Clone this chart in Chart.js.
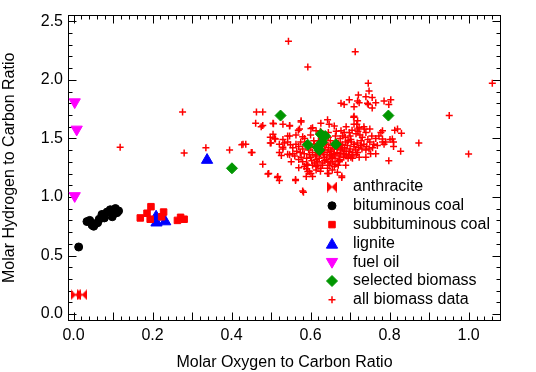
<!DOCTYPE html>
<html><head><meta charset="utf-8">
<style>html,body{margin:0;padding:0;background:#fff;}#wrap{width:536px;height:372px;}</style>
<script src="https://cdn.jsdelivr.net/npm/chart.js@4.4.1/dist/chart.umd.min.js"></script>
</head><body><div id="wrap"><canvas id="c" width="536" height="372"></canvas></div>
<script>
// ---------- data ----------
const seriesNames = ['anthracite','bituminous coal','subbituminous coal','lignite','fuel oil','selected biomass','all biomass data'];
const anthracite = [[0.005,0.165],[0.022,0.165]];
const bituminousCoal = [[0.013,0.573],[0.034,0.79],[0.041,0.80],[0.047,0.76],[0.051,0.75],[0.055,0.77],[0.061,0.78],[0.065,0.81],[0.072,0.851],[0.078,0.821],[0.085,0.871],[0.093,0.891],[0.098,0.831],[0.10,0.851],[0.106,0.901],[0.11,0.866],[0.114,0.881]];
const subbituminousCoal = [[0.169,0.821],[0.186,0.861],[0.196,0.917],[0.194,0.81],[0.223,0.831],[0.228,0.871],[0.263,0.80],[0.271,0.826],[0.28,0.81]];
const lignite = [[0.209,0.831],[0.21,0.78],[0.232,0.79],[0.338,1.315]];
const fuelOil = [[0.003,1.81],[0.008,1.577],[0.003,1.009]];
const selectedBiomass = [[0.401,1.245],[0.524,1.695],[0.797,1.695],[0.626,1.536],[0.593,1.445],[0.618,1.425],[0.629,1.467],[0.637,1.52],[0.664,1.45],[0.622,1.40]];
const allBiomass = [
[0.118,1.425],[0.276,1.725],[0.28,1.375],[0.335,1.42],[0.395,1.40],[0.426,1.445],[0.436,1.45],[0.452,1.38],[0.463,1.725],[0.479,1.725],[0.461,1.63],[0.475,1.60],[0.479,1.61],[0.479,1.28],[0.492,1.195],
[0.544,2.33],[0.713,2.24],[0.593,2.11],[0.746,1.97],[0.748,1.905],[0.721,1.87],[0.74,1.855],[0.756,1.85],[0.698,1.83],[0.677,1.80],[0.723,1.805],[0.744,1.80],[0.765,1.805],[0.786,1.82],[0.803,1.83],[0.798,1.79],[0.71,1.77],[0.756,1.76],[0.951,1.695],[1.0,1.367],[1.06,1.97],[0.874,1.46],[0.828,1.39],[0.798,1.31],[0.83,1.545],[0.82,1.58],[0.807,1.495],[0.782,1.565],[0.773,1.52],[0.782,1.47],[0.765,1.37],[0.748,1.41],[0.74,1.34],[0.723,1.34],[0.706,1.33],[0.71,1.69],[0.719,1.65],[0.736,1.58],[0.719,1.58],[0.71,1.62],[0.643,1.66],[0.605,1.59],[0.576,1.65],[0.572,1.58],[0.547,1.61],[0.53,1.62],[0.505,1.63],[0.542,1.52],[0.509,1.50],[0.53,1.425],[0.547,1.36],[0.521,1.38],[0.551,1.30],[0.517,1.175],[0.521,1.14],[0.562,1.14],[0.58,1.30],[0.593,1.217],[0.601,1.20],[0.614,1.26],[0.643,1.245],[0.668,1.21],[0.679,1.18],[0.689,1.27],[0.584,1.37],[0.685,1.37],[0.673,1.30],[0.652,1.33],[0.63,1.29],[0.605,1.27],
[0.506,1.625],[0.547,1.605],[0.576,1.64],[0.569,1.57],[0.601,1.585],[0.614,1.565],[0.498,1.51],[0.511,1.495],[0.498,1.46],[0.563,1.53],[0.58,1.515],[0.534,1.46],[0.549,1.445],[0.563,1.45],[0.53,1.41],[0.542,1.364],[0.574,1.38],[0.576,1.34],[0.593,1.27],[0.584,1.26],[0.597,1.217],[0.516,1.167],[0.589,1.175],[0.605,1.175],[0.582,1.04],[0.646,1.20],[0.679,1.167],
[0.813,1.57],[0.801,1.49],[0.81,1.47],[0.79,1.47],[0.81,1.43],[0.719,1.82],[0.685,1.79],[0.746,1.79],
[0.626,1.63],[0.647,1.62],[0.66,1.605],[0.709,1.68],[0.717,1.62],[0.723,1.59],[0.677,1.565],[0.698,1.55],[0.715,1.54],[0.731,1.51],[0.702,1.49],[0.681,1.52],[0.689,1.47],[0.71,1.45],[0.727,1.44],[0.74,1.40],[0.719,1.38],[0.752,1.37],[0.702,1.34],[0.673,1.31],[0.66,1.26],[0.647,1.27],[0.626,1.245],[0.618,1.30],[0.643,1.20],[0.614,1.23],[0.778,1.55],[0.782,1.495],[0.769,1.44],[0.786,1.45],
[0.60,1.42],[0.605,1.38],[0.61,1.45],[0.612,1.35],[0.618,1.40],[0.62,1.48],[0.622,1.33],[0.625,1.37],[0.628,1.43],[0.63,1.50],[0.633,1.36],[0.636,1.40],[0.638,1.46],[0.64,1.32],[0.642,1.38],[0.645,1.42],[0.648,1.35],[0.65,1.48],[0.652,1.39],[0.655,1.44],[0.657,1.36],[0.66,1.41],[0.662,1.33],[0.665,1.47],[0.667,1.38],[0.67,1.43],[0.672,1.35],[0.675,1.50],[0.677,1.40],[0.68,1.45],[0.683,1.37],[0.686,1.42],[0.69,1.39],[0.693,1.44],[0.696,1.36],[0.70,1.41],[0.703,1.47],[0.707,1.38],[0.71,1.43],[0.714,1.40],[0.59,1.33],[0.595,1.40],[0.597,1.36],[0.603,1.31],[0.608,1.48],[0.615,1.32],[0.627,1.52],[0.635,1.31],[0.645,1.51],[0.656,1.30],[0.663,1.52],[0.674,1.32],[0.688,1.51],[0.695,1.33],[0.705,1.35],[0.718,1.46],[0.722,1.42],[0.728,1.48],[0.735,1.45],[0.742,1.43],[0.75,1.47],[0.757,1.42],[0.62,1.39],[0.64,1.45],[0.66,1.37],[0.68,1.41],[0.65,1.40],[0.67,1.46],[0.63,1.41],[0.69,1.35],[0.615,1.36],[0.635,1.34],[0.655,1.34],[0.675,1.37],[0.695,1.48],[0.70,1.52],[0.685,1.55],[0.665,1.56],[0.645,1.55],[0.625,1.56],[0.60,1.53],[0.585,1.50],[0.588,1.45],[0.58,1.41],[0.575,1.47],[0.57,1.43],[0.565,1.39],[0.56,1.35],[0.555,1.42],[0.59,1.28],[0.61,1.29],[0.63,1.27],[0.65,1.29],[0.67,1.27],[0.625,1.22],[0.655,1.23],[0.59,1.24],[0.57,1.32],[0.57,1.25],
[0.725,1.53],[0.74,1.55],[0.755,1.52],[0.745,1.49],[0.76,1.45],[0.735,1.60],[0.75,1.58],[0.705,1.57],[0.69,1.60],[0.72,1.56],[0.765,1.50],[0.73,1.41],
[0.429,1.45],[0.45,1.38],[0.494,1.2],[0.562,1.15],[0.58,1.05],[0.521,1.45],[0.53,1.49],[0.547,1.52],[0.505,1.535],[0.50,1.46],[0.542,1.47],[0.555,1.37],[0.526,1.355],
[0.612,1.43],[0.632,1.38],[0.652,1.36],[0.668,1.42],[0.684,1.34],[0.644,1.30],[0.662,1.28],[0.618,1.27],[0.6,1.34],[0.676,1.44],[0.698,1.39],[0.716,1.36]
];
const xTicks = [0, 0.2, 0.4, 0.6, 0.8, 1.0];
const yTicks = [0, 0.5, 1.0, 1.5, 2.0, 2.5];
const xTitle = 'Molar Oxygen to Carbon Ratio';
const yTitle = 'Molar Hydrogen to Carbon Ratio';

// ---------- styles ----------
Chart.defaults.font.family = "'Liberation Sans', Arial, sans-serif";
Chart.defaults.font.size = 16;
Chart.defaults.color = '#000';

function makeBowtie(color){
  const c = document.createElement('canvas'); c.width = 10; c.height = 11;
  const g = c.getContext('2d'); g.fillStyle = color;
  g.beginPath(); g.moveTo(0,0); g.lineTo(5.5,5.5); g.lineTo(0,11); g.closePath(); g.fill();
  g.beginPath(); g.moveTo(10,0); g.lineTo(4.5,5.5); g.lineTo(10,11); g.closePath(); g.fill();
  return c;
}
const toXY = arr => arr.map(p => ({x:p[0], y:p[1]}));
const styles = [
  {pointStyle: makeBowtie('#ff0000'), radius:5, color:'#ff0000', bw:0, rot:0},
  {pointStyle:'circle', radius:4, color:'#000000', bw:1, rot:0},
  {pointStyle:'rect', radius:4.6, color:'#ff0000', bw:1, rot:0},
  {pointStyle:'triangle', radius:6.5, color:'#0000ff', bw:1, rot:0},
  {pointStyle:'triangle', radius:6.5, color:'#ff00ff', bw:1, rot:180},
  {pointStyle:'rectRot', radius:5.5, color:'#009600', bw:1, rot:0},
  {pointStyle:'cross', radius:3.5, color:'#ff0000', bw:1.5, rot:0}
];
const seriesData = [anthracite, bituminousCoal, subbituminousCoal, lignite, fuelOil, selectedBiomass, allBiomass];

const datasets = seriesData.map((d,i) => ({
  label: seriesNames[i], data: toXY(d),
  pointStyle: styles[i].pointStyle, pointRadius: styles[i].radius, pointRotation: styles[i].rot,
  pointBackgroundColor: styles[i].color, pointBorderColor: styles[i].color, pointBorderWidth: styles[i].bw,
  showLine:false
}));

const framePlugin = {
  id:'frame',
  beforeDatasetsDraw(chart){
    const {ctx, chartArea:a, scales:{x,y}} = chart;
    ctx.save(); ctx.strokeStyle = '#000'; ctx.lineWidth = 1;
    const L = Math.round(a.left)+0.5, R = Math.round(a.right)-0.5, T = Math.round(a.top)+0.5, B = Math.round(a.bottom)-0.5;
    ctx.strokeRect(L, T, R-L, B-T);
    ctx.beginPath();
    for (let i = 0; i <= 60; i++) {
      const v = i*0.02; if (v > x.max) break;
      const px = Math.round(x.getPixelForValue(v)) + 0.5;
      const len = (i % 5 === 0) ? 8 : 4;
      ctx.moveTo(px, B); ctx.lineTo(px, B-len);
      ctx.moveTo(px, T); ctx.lineTo(px, T+len);
    }
    for (let i = 0; i <= 30; i++) {
      const v = i*0.1; if (v > y.max) break;
      const py = Math.round(y.getPixelForValue(v)) + 0.5;
      const len = (i % 5 === 0) ? 8 : 4;
      ctx.moveTo(L, py); ctx.lineTo(L+len, py);
      ctx.moveTo(R, py); ctx.lineTo(R-len, py);
    }
    ctx.stroke(); ctx.restore();
  }
};

const legendPlugin = {
  id:'customLegend',
  afterDraw(chart){
    const {ctx} = chart;
    const mx = 332, tx = 353, y0 = 187, dy = 18.8;
    ctx.save();
    ctx.font = "16px 'Liberation Sans', Arial, sans-serif";
    ctx.textBaseline = 'middle'; ctx.textAlign = 'left';
    chart.data.datasets.forEach((ds, i) => {
      const yy = y0 + i*dy;
      const my = yy + (ds.pointStyle === 'triangle' ? (ds.pointRotation ? -0.5 : 1.5) : 0);
      ctx.fillStyle = ds.pointBackgroundColor; ctx.strokeStyle = ds.pointBorderColor; ctx.lineWidth = ds.pointBorderWidth;
      Chart.helpers.drawPoint(ctx, {pointStyle: ds.pointStyle, radius: ds.pointRadius, rotation: ds.pointRotation, borderWidth: ds.pointBorderWidth}, mx, my);
      ctx.fillStyle = '#000';
      ctx.fillText(ds.label, tx, yy);
    });
    ctx.restore();
  }
};

new Chart(document.getElementById('c'), {
  type:'scatter',
  data:{datasets},
  options:{
    responsive:false, animation:false, devicePixelRatio:1,
    layout:{padding:{top:10, right:35, left:0, bottom:0}},
    plugins:{legend:{display:false}, tooltip:{enabled:false}},
    scales:{
      x:{type:'linear', position:'bottom', min:-0.014, max:1.082,
        afterBuildTicks: s => { s.ticks = xTicks.map(v => ({value:v})); },
        afterFit: s => { s.height = 51; },
        grid:{display:false, drawTicks:false}, border:{display:false},
        ticks:{padding:5, autoSkip:false, maxRotation:0, callback: v => Number(v).toFixed(1)},
        title:{display:true, text:xTitle, padding:0}
      },
      y:{type:'linear', position:'left', min:-0.059, max:2.557,
        afterBuildTicks: s => { s.ticks = yTicks.map(v => ({value:v})); },
        afterFit: s => { s.width = 68; },
        grid:{display:false, drawTicks:false}, border:{display:false},
        ticks:{padding:5, autoSkip:false, callback: v => Number(v).toFixed(1)},
        title:{display:true, text:yTitle, padding:0}
      }
    }
  },
  plugins:[framePlugin, legendPlugin]
});
</script>
</body></html>
